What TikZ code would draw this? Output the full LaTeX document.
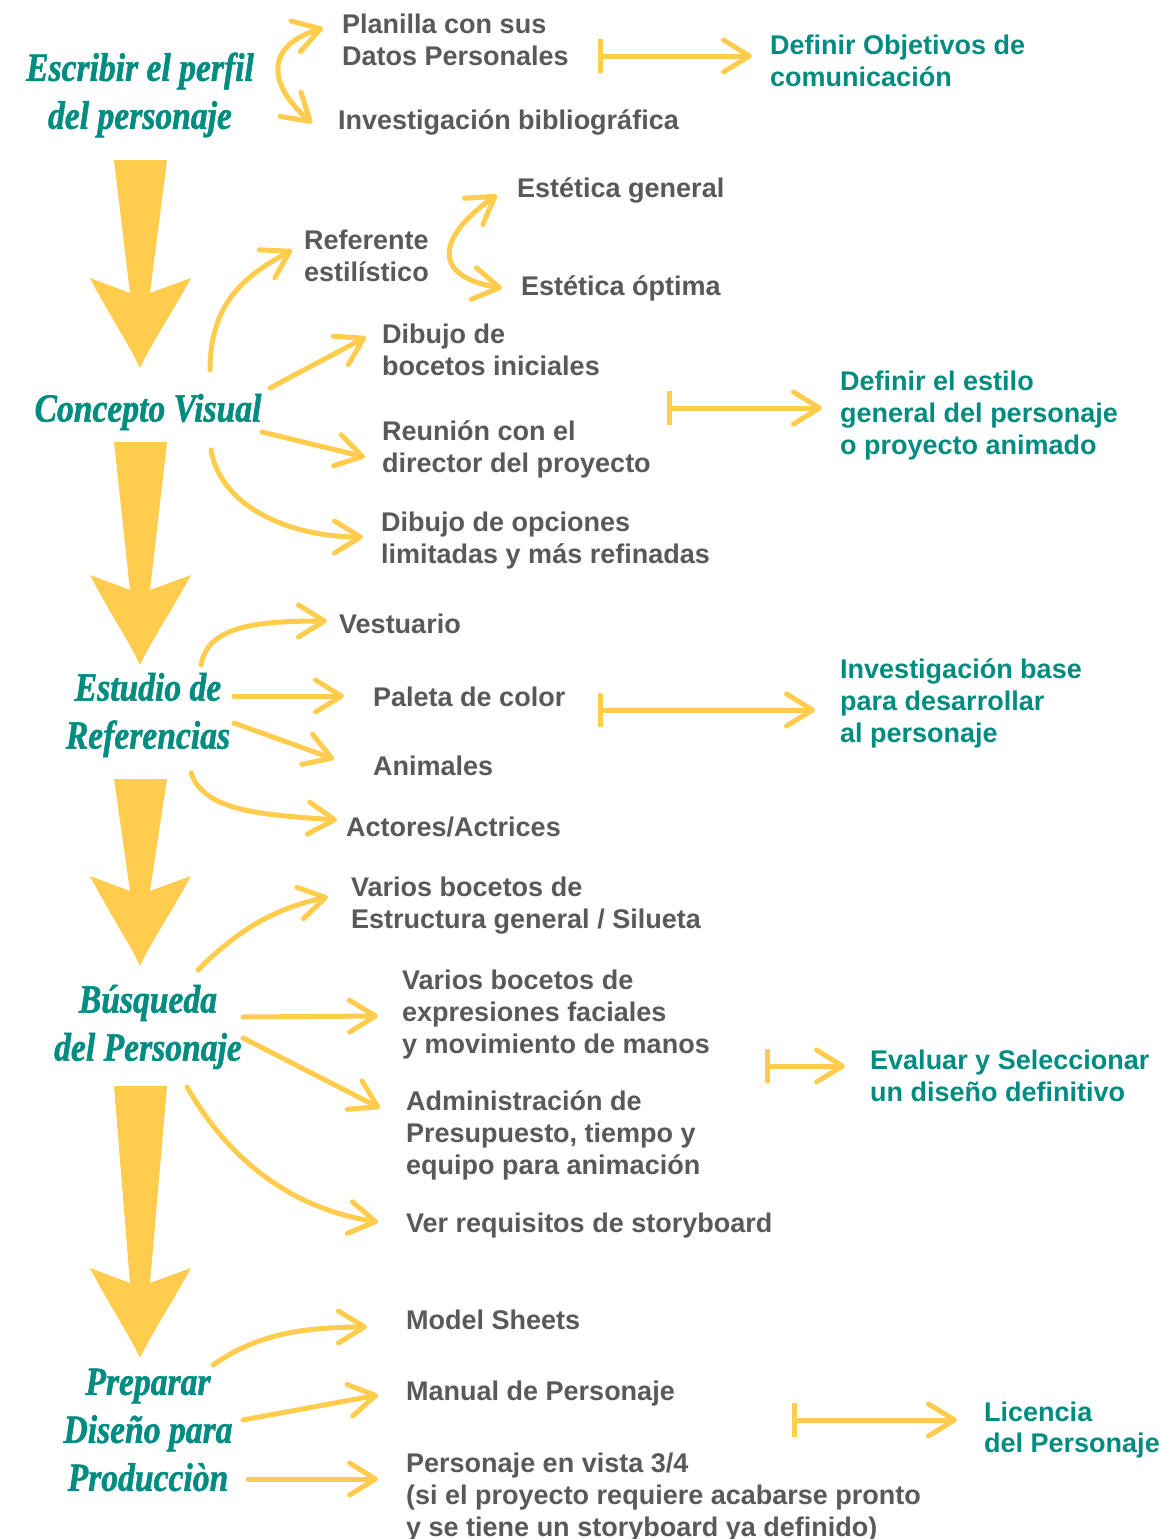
\documentclass[tikz,border=0pt]{standalone}
\usepackage{fontspec}
\setmainfont{Liberation Sans}
\newfontfamily\headfont{Liberation Serif}[FakeStretch=0.84,FakeBold=1.2]
\usetikzlibrary{arrows.meta,positioning}

\definecolor{tealtext}{RGB}{0,140,128}
\definecolor{arrowyellow}{RGB}{255,204,77}
\definecolor{graytext}{RGB}{89,89,89}

\tikzset{
  heading/.style={font=\headfont\bfseries\itshape\fontsize{40}{48}\selectfont, text=tealtext, align=center, inner sep=0pt},
  item/.style={font=\bfseries\fontsize{27}{32}\selectfont, text=graytext, align=left, anchor=west, inner sep=0pt, yshift=-2pt},
  result/.style={item, text=tealtext},
  link/.style={draw=arrowyellow, line width=5pt, line cap=round, line join=round, -{Straight Barb[length=26pt,width=32pt,round]}},
  twolink/.style={link, {Straight Barb[length=26pt,width=32pt,round]}-{Straight Barb[length=26pt,width=32pt,round]}},
  mapsto/.style={draw=arrowyellow, line width=5pt, {Bar[width=34pt]}-{Straight Barb[length=26pt,width=32pt,round]}},
  arrowfill/.style={fill=arrowyellow}
}

% big downward arrow: #1 = top of shaft, #2 = tip
\newcommand{\bigarrow}[2]{%
  \fill[arrowfill] (114,#1) -- (167,#1) -- (150,#2+75) -- (191,#2+90)
    .. controls (172,#2+55) and (150,#2+22) .. (140,#2)
    .. controls (130,#2+22) and (108,#2+55) .. (90,#2+90) -- (130,#2+75) -- cycle;}

\begin{document}
\begin{tikzpicture}[x=1pt,y=1pt]
  \useasboundingbox (0,0) rectangle (1164,-1539);
  \fill[white] (0,0) rectangle (1164,-1539);

  % headings
  \node[heading] (perfil) at (140,-95) {Escribir el perfil\\del personaje};
  \node[heading] (concepto) at (148,-412) {Concepto Visual};
  \node[heading] (estudio) at (148,-715) {Estudio de\\Referencias};
  \node[heading] (busqueda) at (148,-1027) {Búsqueda\\del Personaje};
  \node[heading] (preparar) at (148,-1430) {Preparar\\Diseño para\\Producciòn};

  \bigarrow{-160}{-368}
  \bigarrow{-442}{-665}
  \bigarrow{-779}{-966}
  \bigarrow{-1086}{-1358}

  % items
  \node[item] (planilla) at (342,-38) {Planilla con sus\\Datos Personales};
  \node[item] (biblio) at (338,-120) {Investigación bibliográfica};
  \node[item, align=center] (referente) at (304,-254) {Referente\\estilístico};
  \node[item] (general) at (517,-188) {Estética general};
  \node[item] (optima) at (521,-286) {Estética óptima};
  \node[item] (bocetos) at (382,-348) {Dibujo de\\bocetos iniciales};
  \node[item] (reunion) at (382,-447) {Reunión con el\\director del proyecto};
  \node[item] (opciones) at (381,-539) {Dibujo de opciones\\limitadas y más refinadas};
  \node[item] (vestuario) at (339,-622) {Vestuario};
  \node[item] (paleta) at (373,-695) {Paleta de color};
  \node[item] (animales) at (373,-764) {Animales};
  \node[item] (actores) at (346,-825) {Actores/Actrices};
  \node[item] (silueta) at (351,-904) {Varios bocetos de\\Estructura general / Silueta};
  \node[item] (expresiones) at (402,-1013) {Varios bocetos de\\expresiones faciales\\y movimiento de manos};
  \node[item] (presupuesto) at (406,-1133) {Administración de\\Presupuesto, tiempo y\\equipo para animación};
  \node[item] (storyboard) at (406,-1224) {Ver requisitos de storyboard};
  \node[item] (sheets) at (406,-1318) {Model Sheets};
  \node[item] (manual) at (406,-1392) {Manual de Personaje};
  \node[item] (vista) at (406,-1495) {Personaje en vista 3/4\\(si el proyecto requiere acabarse pronto\\y se tiene un storyboard ya definido)};

  % results
  \node[result] (objetivos) at (770,-59) {Definir Objetivos de\\comunicación};
  \node[result] (estilo) at (840,-414) {Definir el estilo\\general del personaje\\o proyecto animado};
  \node[result] (base) at (840,-701) {Investigación base\\para desarrollar\\al personaje};
  \node[result] (diseno) at (870,-1074) {Evaluar y Seleccionar\\un diseño definitivo};
  \node[result] (licencia) at (984,-1428) {Licencia\\del Personaje};

  % perfil
  \draw[twolink] ([xshift=-19pt,yshift=12pt]planilla.west) .. controls +(197:60) and +(139:60) .. ([xshift=-26pt,yshift=-1pt]biblio.west);
  \draw[mapsto] ([xshift=-172pt,yshift=5pt]objetivos.west) -- ([xshift=-18pt,yshift=5pt]objetivos.west);

  % concepto
  \draw[link] ([xshift=62pt,yshift=42pt]concepto.center) .. controls +(90:70) and +(209:50) .. ([xshift=-12pt,yshift=6pt]referente.west);
  \draw[twolink] ([xshift=-20pt,yshift=-5pt]general.west) .. controls +(215:78) and +(171:68) .. ([xshift=-19pt,yshift=0pt]optima.west);
  \draw[link] ([xshift=122pt,yshift=24pt]concepto.center) -- ([xshift=-16pt,yshift=13pt]bocetos.west);
  \draw[link] ([xshift=114pt,yshift=-20pt]concepto.center) -- ([xshift=-17pt,yshift=-8pt]reunion.west);
  \draw[link] ([xshift=63pt,yshift=-38pt]concepto.center) .. controls +(-80:60) and +(180:70) .. ([xshift=-18pt,yshift=4pt]opciones.west);
  \draw[mapsto] ([xshift=-173pt,yshift=8pt]estilo.west) -- ([xshift=-18pt,yshift=8pt]estilo.west);

  % estudio
  \draw[link] ([xshift=53pt,yshift=50pt]estudio.center) .. controls +(80:40) and +(180:70) .. ([xshift=-12pt,yshift=3pt]vestuario.west);
  \draw[link] ([xshift=86pt,yshift=19pt]estudio.center) -- ([xshift=-29pt,yshift=1pt]paleta.west);
  \draw[link] ([xshift=86pt,yshift=-8pt]estudio.center) -- ([xshift=-39pt,yshift=7pt]animales.west);
  \draw[link] ([xshift=43pt,yshift=-58pt]estudio.center) .. controls +(-70:40) and +(176:80) .. ([xshift=-9pt,yshift=7pt]actores.west);
  \draw[mapsto] ([xshift=-242pt,yshift=-7pt]base.west) -- ([xshift=-25pt,yshift=-7pt]base.west);

  % busqueda
  \draw[link] ([xshift=50pt,yshift=57pt]busqueda.center) .. controls +(45:50) and +(192:60) .. ([xshift=-23pt,yshift=9pt]silueta.west);
  \draw[link] ([xshift=95pt,yshift=10pt]busqueda.center) -- ([xshift=-24pt,yshift=-1pt]expresiones.west);
  \draw[link] ([xshift=95pt,yshift=-11pt]busqueda.center) -- ([xshift=-26pt,yshift=27pt]presupuesto.west);
  \draw[link] ([xshift=39pt,yshift=-60pt]busqueda.center) .. controls +(-60:70) and +(171:100) .. ([xshift=-28pt,yshift=4pt]storyboard.west);
  \draw[mapsto] ([xshift=-105pt,yshift=10pt]diseno.west) -- ([xshift=-25pt,yshift=10pt]diseno.west);

  % preparar
  \draw[link] ([xshift=65pt,yshift=65pt]preparar.center) .. controls +(35:50) and +(180:70) .. ([xshift=-39pt,yshift=-7pt]sheets.west);
  \draw[link] ([xshift=95pt,yshift=10pt]preparar.center) -- ([xshift=-28pt,yshift=-1pt]manual.west);
  \draw[link] ([xshift=100pt,yshift=-49pt]preparar.center) -- ([xshift=-28pt,yshift=18pt]vista.west);
  \draw[mapsto] ([xshift=-192pt,yshift=10pt]licencia.west) -- ([xshift=-27pt,yshift=10pt]licencia.west);
\end{tikzpicture}
\end{document}
